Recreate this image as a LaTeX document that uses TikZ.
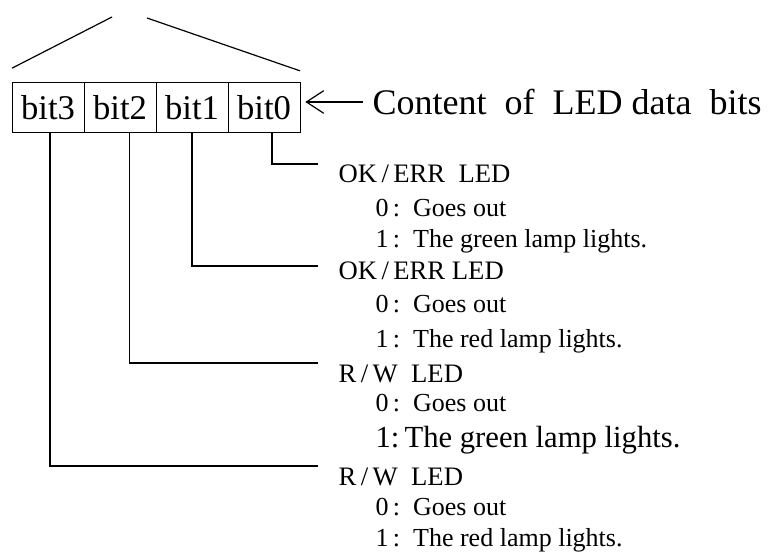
\documentclass[tikz,border=0pt]{standalone}
\usepackage{fontspec}
\setmainfont{Liberation Serif}
\usetikzlibrary{positioning,arrows.meta}

\begin{document}
\begin{tikzpicture}[x=0.75pt, y=-0.75pt, >={Straight Barb[length=13pt,width=17pt]}, node distance=0pt, line width=0.9pt]
  \tikzstyle{bitcell}=[draw, line width=0.7pt, minimum width=54pt, minimum height=37pt, inner sep=0pt, outer sep=0pt, font=\fontsize{26}{28}\selectfont]
  \tikzstyle{ledhead}=[anchor=base west, inner sep=0pt, font=\fontsize{20}{22}\selectfont]
  \tikzstyle{ledval}=[anchor=base west, inner sep=0pt, font=\fontsize{19.5}{21}\selectfont]
  \useasboundingbox (0,0) rectangle (771,552);

  % LED data bits
  \node[bitcell] (b3) at (48,107.5) {bit3};
  \node[bitcell, right=of b3] (b2) {bit2};
  \node[bitcell, right=of b2] (b1) {bit1};
  \node[bitcell, right=of b1] (b0) {bit0};

  % expansion lines above the box
  \coordinate (apexl) at (112,17);
  \coordinate (apexr) at (147,18);
  \draw (apexl) -- ([yshift=11pt]b3.north west);
  \draw (apexr) -- ([yshift=9pt]b0.north east);

  \node[anchor=west, inner sep=0pt, font=\fontsize{27}{29}\selectfont] (content) at (372,102) {Content\ \ of\ \ LED data\ \ bits};
  \draw[->, shorten <=7pt, shorten >=4pt] (content.west) -- (content.west -| b0.east);

  % descriptions
  \node[ledhead] (h0) at (338,183) {OK\,/\,ERR\ \ LED};
  \node[ledval] (h0a) at (375,217) {0\,:\ \ Goes out};
  \node[ledval] (h0b) at (375,248) {1\,:\ \ The green lamp lights.};
  \node[ledhead] (h1) at (338,280) {OK\,/\,ERR LED};
  \node[ledval] (h1a) at (375,313) {0\,:\ \ Goes out};
  \node[ledval] (h1b) at (375,347) {1\,:\ \ The red lamp lights.};
  \node[ledhead] (h2) at (338,382) {R\,/\,W\ \ LED};
  \node[ledval] (h2a) at (375,411) {0\,:\ \ Goes out};
  \node[ledval, font=\fontsize{23}{25}\selectfont] (h2b) at (375,447) {1:\,The green lamp lights.};
  \node[ledhead] (h3) at (338,485) {R\,/\,W\ \ LED};
  \node[ledval] (h3a) at (375,515) {0\,:\ \ Goes out};
  \node[ledval] (h3b) at (375,546) {1\,:\ \ The red lamp lights.};

  \coordinate (e0) at (318,164);
  \coordinate (e1) at (318,266);
  \coordinate (e2) at (318,363);
  \coordinate (e3) at (318,466);
  \draw ([xshift=6pt]b0.south) |- (e0);
  \draw (b1.south) |- (e1);
  \draw ([xshift=7pt]b2.south) |- (e2);
  \draw ([xshift=1.5pt]b3.south) |- (e3);
\end{tikzpicture}
\end{document}
